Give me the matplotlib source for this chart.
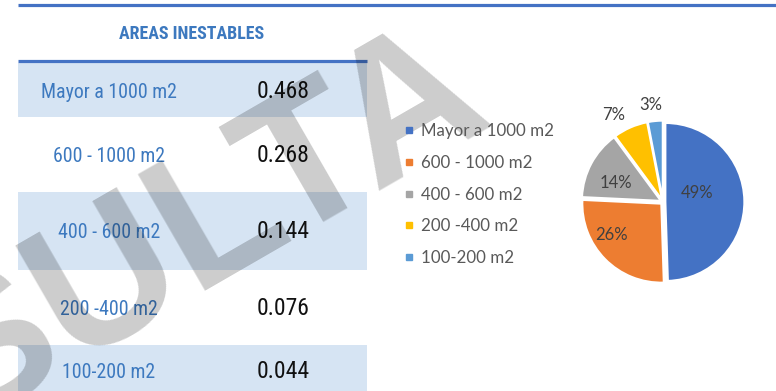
import matplotlib.pyplot as plt
from matplotlib import font_manager
from matplotlib.lines import Line2D
import numpy as np

# Datos de la tabla y del gráfico circular
categorias = ["Mayor a 1000 m2", "600 - 1000 m2", "400 - 600 m2", "200 -400 m2", "100-200 m2"]
valores = [0.468, 0.268, 0.144, 0.076, 0.044]
porcentajes = [49, 26, 14, 7, 3]
titulo_tabla = "AREAS INESTABLES"
marca_agua = "CONSULTA"

colores = ["#4472c4", "#ed7d31", "#a5a5a5", "#ffc000", "#5b9bd5"]
azul_linea = "#4472c4"
azul_texto = "#3d79bf"
fondo_fila = "#d6e4f3"

# Geometría de la tabla en píxeles (y hacia abajo)
filas_y = [(62.5, 116.5), (116.5, 192), (192, 270), (270, 345), (345, 400)]
base_texto = [98, 162, 238, 315, 378]
x_tabla = (18, 367)
x_cat, x_val = 109, 283


def fuente_disponible(candidatas):
    """Devuelve la primera familia instalada de la lista (o None)."""
    for fam in candidatas:
        try:
            font_manager.findfont(font_manager.FontProperties(family=fam),
                                  fallback_to_default=False)
            return fam
        except ValueError:
            continue
    return None


# Tipografía estrecha para la tabla; si no hay, Liberation Sans más pequeña
estrecha = fuente_disponible(["Liberation Sans Narrow", "Arial Narrow",
                              "Roboto Condensed", "Open Sans Condensed"])
if estrecha:
    fam_tabla, t_cat, t_val, t_tit = estrecha, 14.3, 17, 12.9
else:
    fam_tabla, t_cat, t_val, t_tit = "Liberation Sans", 12, 14.5, 11

W, H = 776, 391
fig = plt.figure(figsize=(W / 100, H / 100), dpi=100)
ax = fig.add_axes([0, 0, 1, 1])
ax.set_xlim(0, W)
ax.set_ylim(H, 0)
ax.axis("off")

# Líneas azules superiores
ax.plot([18, W], [5.3, 5.3], color=azul_linea, lw=2.3, solid_capstyle="butt")
ax.plot([x_tabla[0], x_tabla[1]], [61.3, 61.3], color=azul_linea, lw=2.3,
        solid_capstyle="butt", zorder=3)

ax.text(192, 39.3, titulo_tabla, ha="center", va="baseline", color=azul_texto,
        fontsize=t_tit, fontweight="bold", family=fam_tabla)

for i, (cat, val) in enumerate(zip(categorias, valores)):
    y0, y1 = filas_y[i]
    if i % 2 == 0:
        ax.add_patch(plt.Rectangle((x_tabla[0], y0), x_tabla[1] - x_tabla[0], y1 - y0,
                                   facecolor=fondo_fila, edgecolor="none", zorder=1))
    ax.text(x_cat, base_texto[i], cat, ha="center", va="baseline", color=azul_texto,
            fontsize=t_cat, family=fam_tabla, zorder=2)
    ax.text(x_val, base_texto[i], f"{val:.3f}", ha="center", va="baseline",
            color="#111111", fontsize=t_val, family=fam_tabla, zorder=2)

# Marca de agua (multiplica el fondo por 0.8)
ax.text(496, 118, marca_agua, rotation=30, rotation_mode="anchor", ha="right",
        va="baseline", fontsize=140, fontweight="bold", family="Liberation Sans",
        color="black", alpha=0.2, zorder=10)

# Gráfico circular
cx, cy, rpx = 663, 202, 79
lado = 2.25 * rpx
pax = fig.add_axes([(cx - lado / 2) / W, (H - cy - lado / 2) / H, lado / W, lado / H])
wedges, _ = pax.pie(porcentajes, colors=colores, startangle=90, counterclock=False,
                    explode=[0.03] * 5, radius=1,
                    wedgeprops=dict(edgecolor="white", linewidth=1.5))
pax.set_xlim(-1.125, 1.125)
pax.set_ylim(-1.125, 1.125)

radios_etq = [0.45, 0.78, 0.64, 1.27, 1.24]
giro_etq = [14, -12, 6, 6, 2]
for w, p, r, g in zip(wedges, porcentajes, radios_etq, giro_etq):
    ang = np.deg2rad((w.theta1 + w.theta2) / 2 + g)
    pax.text(r * np.cos(ang), r * np.sin(ang), f"{p}%", ha="center", va="center",
             fontsize=12, family="Lato", color="#404040")

handles = [Line2D([], [], marker="s", ls="", color=c, markersize=4.5) for c in colores]
fig.legend(handles, categorias, loc="upper left", bbox_to_anchor=(403 / W, 1 - 123 / H),
           frameon=False, borderpad=0, borderaxespad=0, handlelength=0.7,
           handletextpad=0.35, labelspacing=0.93,
           prop=dict(family="Lato", size=12.2), labelcolor="#595959")

fig.savefig("out.png", dpi=100)
